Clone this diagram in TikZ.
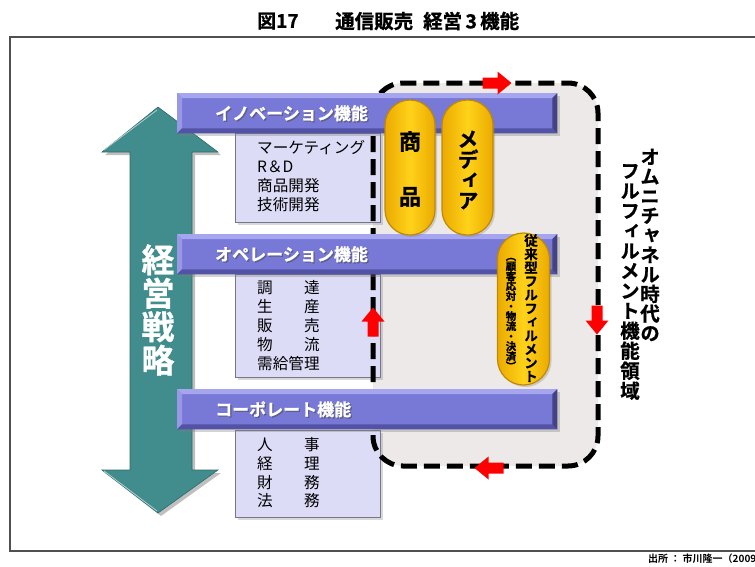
\documentclass[tikz,border=0pt]{standalone}
\usepackage{fontspec}
\setmainfont{Noto Sans CJK JP}[BoldFont={Noto Sans CJK JP Bold}]
\newfontfamily\vjp{Noto Sans CJK JP}[RawFeature=+vert, BoldFont={Noto Sans CJK JP Bold}, BoldFeatures={FakeBold=0.8}]
\newfontfamily\heavy{Noto Sans CJK JP Bold}[FakeBold=0.8]
\usetikzlibrary{shadows}

\definecolor{barmid}{HTML}{7878D6}
\definecolor{barhi}{HTML}{A6A6EE}
\definecolor{barlo}{HTML}{5252A6}
\definecolor{boxfill}{HTML}{DCDCF7}
\definecolor{boxline}{HTML}{76768A}
\definecolor{tealc}{HTML}{418C8C}
\definecolor{regionfill}{HTML}{ECE9E8}
\definecolor{pillmid}{HTML}{FFD21A}
\definecolor{pilledge}{HTML}{EBAA00}
\definecolor{pillline}{HTML}{C08A00}
\definecolor{arrowred}{HTML}{FF0000}
\definecolor{framec}{HTML}{505050}

\newcommand\funcbar[3]{%
  \node[fbar, anchor=north west] (#1) at (177,#2) {};
  \fill[barhi] (#1.north west) -- (#1.north east) -- ([shift={(-5,5)}]#1.north east) -- ([shift={(5,5)}]#1.north west) -- cycle;
  \fill[barhi!70!barmid] (#1.north west) -- ([shift={(5,5)}]#1.north west) -- ([shift={(5,-5)}]#1.south west) -- (#1.south west) -- cycle;
  \fill[barlo] (#1.south west) -- (#1.south east) -- ([shift={(-5,-5)}]#1.south east) -- ([shift={(5,-5)}]#1.south west) -- cycle;
  \fill[barlo!80!black] (#1.north east) -- (#1.south east) -- ([shift={(-5,-5)}]#1.south east) -- ([shift={(-5,5)}]#1.north east) -- cycle;
  \node[bartext, text=black!70, opacity=0.5] (#1-shadow) at ([shift={(39.3,1.3)}]#1.west) {#3};
  \node[bartext] (#1-label) at ([shift={(38,0)}]#1.west) {#3};
}
\newcommand\redarrow[3]{%
  \begin{scope}[shift={(#1,#2)}, rotate=#3]
    \fill[arrowred] (-14.5,-5.5) -- (0.5,-5.5) -- (0.5,-11.5) -- (14.5,0) -- (0.5,11.5) -- (0.5,5.5) -- (-14.5,5.5) -- cycle;
  \end{scope}
}

\begin{document}
\begin{tikzpicture}[x=1pt, y=-1pt,
  fbar/.style={fill=barmid, minimum width=380pt, minimum height=40pt, inner sep=0pt,
    drop shadow={opacity=0.35, shadow xshift=3pt, shadow yshift=-3pt}},
  bartext/.style={anchor=west, text=white, inner sep=0pt, font=\heavy\fontsize{17}{17}\selectfont},
  lbox/.style={fill=boxfill, draw=boxline, line width=1pt, minimum width=145pt, inner sep=0pt,
    drop shadow={opacity=0.3, shadow xshift=2.5pt, shadow yshift=-2.5pt}},
  boxitem/.style={anchor=west, inner sep=0pt, font=\fontsize{15.6}{15.6}\selectfont, text height=0.88em, text depth=0.12em},
  pill/.style={draw=pillline, line width=1.2pt, inner sep=0pt, left color=pilledge, right color=pilledge, middle color=pillmid,
    drop shadow={opacity=0.3, shadow xshift=2pt, shadow yshift=-2pt}},
  vtxt/.style={align=center, inner sep=0pt},
]
\useasboundingbox (0,0) rectangle (755,566);

% title
\node[anchor=west, inner sep=0pt, font=\heavy\fontsize{19}{19}\selectfont] (title1) at (257,21) {図17};
\node[anchor=west, inner sep=0pt, font=\heavy\fontsize{19.5}{19.5}\selectfont] (title2) at (335,21) {通信販売\hspace{10pt}経営\,3\,機能};

% frame
\draw[framec, line width=1.6pt] (755,37) -- (10,37) -- (10,551) -- (755,551);
\node[anchor=west, inner sep=0pt, font=\bfseries\fontsize{10}{10}\selectfont] (src) at (648,559) {出所 ： 市川隆一（2009};

% big teal double arrow
\fill[black, opacity=0.25] (161,110) -- (221,155) -- (195,155) -- (195,473) -- (221,473) -- (161,516) -- (105,473) -- (133,473) -- (133,155) -- (105,155) -- cycle;
\filldraw[fill=tealc, draw=tealc!75!black, line width=0.6pt] (158,107) -- (218,152) -- (192,152) -- (192,470) -- (218,470) -- (158,513) -- (102,470) -- (130,470) -- (130,152) -- (102,152) -- cycle;
\draw[tealc!40!white, line width=0.8pt] (104,150) -- (157,110);
\draw[tealc!40!white, line width=0.8pt] (104,471) -- (157,511);
\node[vtxt, text=white, font=\heavy\fontsize{33}{33.5}\selectfont] (strat) at (158,310) {経\\営\\戦\\略};

% fulfillment region fill
\coordinate (rNW) at (373,83);
\coordinate (rSE) at (598,466);
\fill[regionfill, rounded corners=30pt] (rNW) rectangle (rSE);

% lavender content boxes
\node[lbox, anchor=north west, minimum height=89pt] (innobox) at (235,133) {};
\node[lbox, anchor=north west, minimum height=103pt] (opbox) at (235,274) {};
\node[lbox, anchor=north west, minimum height=87pt] (corpbox) at (235,430) {};

% dashed outline
\draw[black, line width=5pt, dash pattern=on 16pt off 7pt, rounded corners=30pt] (rNW) rectangle (rSE);

% function bars
\funcbar{innobar}{93}{イノベーション機能}
\funcbar{opbar}{234}{オペレーション機能}
\funcbar{corpbar}{389}{コーポレート機能}

% box texts
\foreach \t [count=\i] in {マーケティング, R＆D, 商品開発, 技術開発}
  \node[boxitem] (inno\i) at (257,{150+19*(\i-1)}) {\t};
\foreach \t [count=\i] in {調　　達, 生　　産, 販　　売, 物　　流, 需給管理}
  \node[boxitem] (op\i) at (257,{290+18.8*(\i-1)}) {\t};
\foreach \t [count=\i] in {人　　事, 経　　理, 財　　務, 法　　務}
  \node[boxitem] (corp\i) at (257,{447+18.7*(\i-1)}) {\t};

% pills
\node[pill, minimum width=50pt, minimum height=135pt, rounded corners=25pt] (shohin) at (410,167.5) {};
\node[pill, minimum width=51pt, minimum height=135pt, rounded corners=25pt] (media) at (467.5,167.5) {};
\node[pill, minimum width=52pt, minimum height=152pt, rounded corners=26pt] (juurai) at (523.5,309) {};

\node[vtxt, font=\vjp\bfseries\fontsize{22}{55}\selectfont] (shohinT) at (410,169) {商\\品};
\node[vtxt, font=\vjp\bfseries\fontsize{21}{20.5}\selectfont] (mediaT) at (468,170) {メ\\デ\\ィ\\ア};
\node[vtxt, font=\vjp\bfseries\fontsize{13.5}{13.6}\selectfont] (juuraiT) at (531,308) {従\\来\\型\\フ\\ル\\フ\\ィ\\ル\\メ\\ン\\ト};
\node[vtxt, font=\vjp\bfseries\fontsize{10.5}{10}\selectfont] (juuraiS) at (511,314) {（\\顧\\客\\応\\対\\・\\物\\流\\・\\決\\済\\）};

% red arrows on the loop
\redarrow{497}{83}{0}
\redarrow{597}{320}{-90}
\redarrow{489}{468}{180}
\redarrow{373}{322}{90}

% right vertical title
\node[vtxt, font=\vjp\bfseries\fontsize{19.5}{19.6}\selectfont] (omniA) at (650,245) {オ\\ム\\ニ\\チ\\ャ\\ネ\\ル\\時\\代\\の};
\node[vtxt, font=\vjp\bfseries\fontsize{19.5}{20}\selectfont] (omniB) at (630,282) {フ\\ル\\フ\\ィ\\ル\\メ\\ン\\ト\\機\\能\\領\\域};
\end{tikzpicture}
\end{document}
